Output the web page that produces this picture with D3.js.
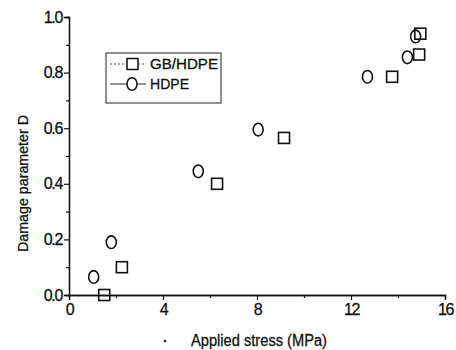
<!DOCTYPE html>
<html>
<head>
<meta charset="utf-8">
<script src="https://cdn.jsdelivr.net/npm/d3@7"></script>
<style>
  body { margin: 0; background: #fff; }
  svg text { font-family: "Liberation Sans", Arial, sans-serif; fill: #111; }
</style>
</head>
<body>
<div id="chart"></div>
<script>
// ——— DATA —————————————————————————————————————————————————————————
const gbStress = [1.5, 2.25, 6.3, 9.15, 13.75, 14.9, 14.95];
const gbDamage = [0.0, 0.10, 0.40, 0.565, 0.785, 0.865, 0.94];
const hdpeStress = [1.05, 1.8, 5.5, 8.05, 12.7, 14.4, 14.75];
const hdpeDamage = [0.065, 0.19, 0.445, 0.595, 0.785, 0.855, 0.93];
const xTicks = [0, 4, 8, 12, 16];
const yTicks = [0, 0.2, 0.4, 0.6, 0.8, 1.0];
const seriesNames = ["GB/HDPE", "HDPE"];

const width = 456;
const height = 350;

const svg = d3.select("#chart").append("svg")
    .attr("width", width)
    .attr("height", height);

// ——— SCALES ————————————————————————————————————————————————————————
const x = d3.scaleLinear().domain([0, 16]).range([69, 445]);
const y = d3.scaleLinear().domain([0, 1]).range([295, 17]);

// ——— AXES ——————————————————————————————————————————————————————————
const xaxis = d3.axisBottom(x).tickValues(xTicks).tickFormat(d3.format("d")).tickSize(5).tickPadding(4);
const xminor = d3.axisBottom(x).tickValues(d3.range(2, 16, 4)).tickFormat("").tickSize(3);
const yaxis = d3.axisLeft(y).tickValues(yTicks).tickFormat(d3.format(".1f")).tickSize(5).tickPadding(2);
const yminor = d3.axisLeft(y).tickValues(d3.range(0.1, 1, 0.2)).tickFormat("").tickSize(3);

function styleAxis(g) {
    g.select(".domain").attr("stroke", "#111").attr("stroke-width", 1.3);
    g.selectAll(".tick line").attr("stroke", "#111").attr("stroke-width", 1.2);
    g.selectAll("text").style("font-size", "16px").attr("letter-spacing", "-1.3px")
        .attr("fill", "#111").attr("stroke", "#111").attr("stroke-width", 0.3);
}

svg.append("g").attr("transform", `translate(0,${y(0)})`).call(xminor).call(styleAxis);
svg.append("g").attr("transform", `translate(0,${y(0)})`).call(xaxis).call(styleAxis);
svg.append("g").attr("transform", `translate(${x(0)},0)`).call(yminor).call(styleAxis);
svg.append("g").attr("transform", `translate(${x(0)},0)`).call(yaxis).call(styleAxis);

// axis titles
svg.append("text")
    .attr("x", 191).attr("y", 346)
    .attr("textLength", 136).attr("lengthAdjust", "spacingAndGlyphs")
    .attr("stroke", "#111").attr("stroke-width", 0.3)
    .style("font-size", "16px")
    .text("Applied stress (MPa)");
svg.append("circle").attr("cx", 165).attr("cy", 341).attr("r", 1.3).attr("fill", "#222");

svg.append("text")
    .attr("transform", "translate(28,252) rotate(-90)")
    .attr("textLength", 137).attr("lengthAdjust", "spacingAndGlyphs")
    .attr("stroke", "#111").attr("stroke-width", 0.3)
    .style("font-size", "15px")
    .text("Damage parameter D");

// ——— MARKERS ————————————————————————————————————————————————————————
const gb = gbStress.map((s, i) => ({ s, d: gbDamage[i] }));
const hdpe = hdpeStress.map((s, i) => ({ s, d: hdpeDamage[i] }));

svg.selectAll(".sq").data(gb).enter().append("rect")
    .attr("x", (d) => x(d.s) - 5.5)
    .attr("y", (d) => y(d.d) - 5.5)
    .attr("width", 11).attr("height", 11)
    .attr("fill", "none").attr("stroke", "#111").attr("stroke-width", 1.6);

svg.selectAll(".ci").data(hdpe).enter().append("ellipse")
    .attr("cx", (d) => x(d.s))
    .attr("cy", (d) => y(d.d))
    .attr("rx", 5).attr("ry", 6.3)
    .attr("fill", "none").attr("stroke", "#111").attr("stroke-width", 1.6);

// ——— LEGEND ——————————————————————————————————————————————————————
const legend = svg.append("g");
legend.append("rect")
    .attr("x", 106).attr("y", 53).attr("width", 115).attr("height", 50)
    .attr("fill", "none").attr("stroke", "#222").attr("stroke-width", 1);

const legendWidths = [68, 39];
seriesNames.forEach((name, i) => {
    const ly = 64 + i * 20;
    legend.append("line")
        .attr("x1", 110).attr("x2", 146).attr("y1", ly).attr("y2", ly)
        .attr("stroke", "#222").attr("stroke-width", i === 0 ? 0.8 : 1.2)
        .attr("stroke-dasharray", i === 0 ? "2,2" : null);
    if (i === 0) {
        legend.append("rect")
            .attr("x", 127).attr("y", ly - 5.5).attr("width", 11).attr("height", 11)
            .attr("fill", "#fff").attr("stroke", "#111").attr("stroke-width", 1.5);
    } else {
        legend.append("ellipse")
            .attr("cx", 132).attr("cy", ly).attr("rx", 5).attr("ry", 6.3)
            .attr("fill", "#fff").attr("stroke", "#111").attr("stroke-width", 1.5);
    }
    legend.append("text")
        .attr("x", 150).attr("y", ly + 5)
        .attr("textLength", legendWidths[i]).attr("lengthAdjust", "spacingAndGlyphs")
        .attr("stroke", "#111").attr("stroke-width", 0.3)
        .style("font-size", "14px")
        .text(name);
});
</script>
</body>
</html>
